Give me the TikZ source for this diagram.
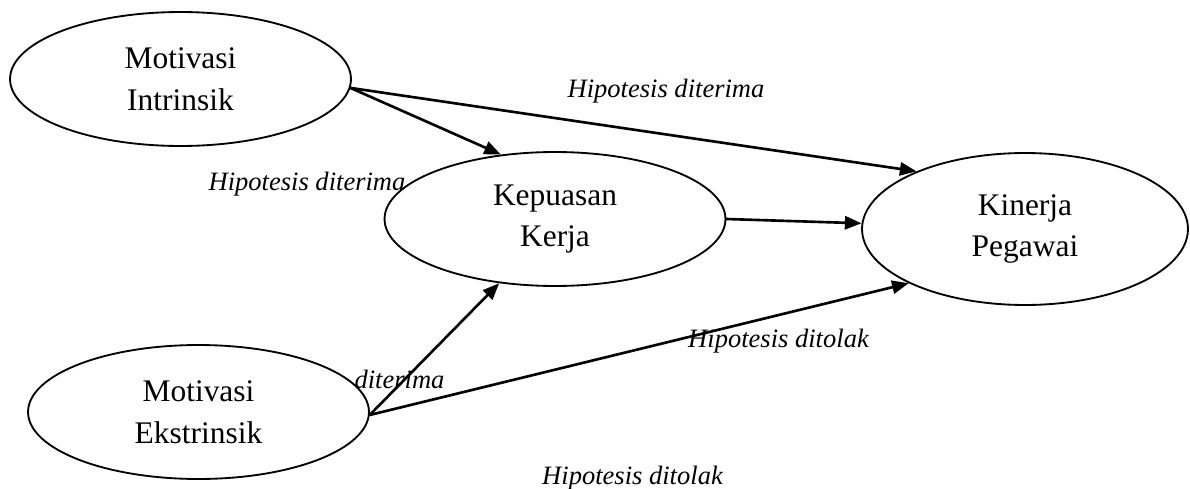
\documentclass[tikz,border=0pt]{standalone}
\usepackage{fontspec}
\setmainfont{Liberation Serif}
\usetikzlibrary{arrows.meta,shapes.geometric}

\begin{document}
\begin{tikzpicture}[
  x=0.02cm,y=0.02cm,
  line cap=round,line join=round,
  >={Triangle[length=9.5pt,width=7.5pt]},
  var/.style={draw,ellipse,line width=1.05pt,inner sep=0pt,align=center,
    font=\fontsize{17.9}{23.8}\selectfont},
  link/.style={->,line width=1.5pt},
  hyp/.style={anchor=base,inner sep=0pt,
    font=\fontsize{15.1}{18}\selectfont\itshape}
]
\useasboundingbox (0,0) rectangle (1190,488);

% Variables of the research model, one ellipse each.
\node[var,minimum width=6.82cm,minimum height=2.68cm] (mi) at (180.5,409) {Motivasi\\Intrinsik};
\node[var,minimum width=6.82cm,minimum height=2.68cm] (kk) at (555,269) {Kepuasan\\Kerja};
\node[var,minimum width=6.82cm,minimum height=2.68cm] (me) at (198.5,76) {Motivasi\\Ekstrinsik};
\node[var,minimum width=6.52cm,minimum height=3.04cm] (kp) at (1025,259) {Kinerja\\Pegawai};

% Hypothesised paths.
\draw[link] (mi.-3) -- (kk.130);
\draw[link] (mi.-3) -- (kp.152);
\draw[link] (kk.east) -- (kp.178);
\draw[link] (me.-1.5) -- (kk.229);
\draw[link] (me.-1.5) -- (kp.205);

% Test outcomes, set where the picture prints them.
\node[hyp] (h1) at (666,391) {Hipotesis diterima};
\node[hyp] (h2) at (307,298) {Hipotesis diterima};
\node[hyp] (h3) at (399.5,100) {diterima};
\node[hyp] (h4) at (778.5,141) {Hipotesis ditolak};
\node[hyp] (h5) at (632.5,4) {Hipotesis ditolak};

\end{tikzpicture}
\end{document}
